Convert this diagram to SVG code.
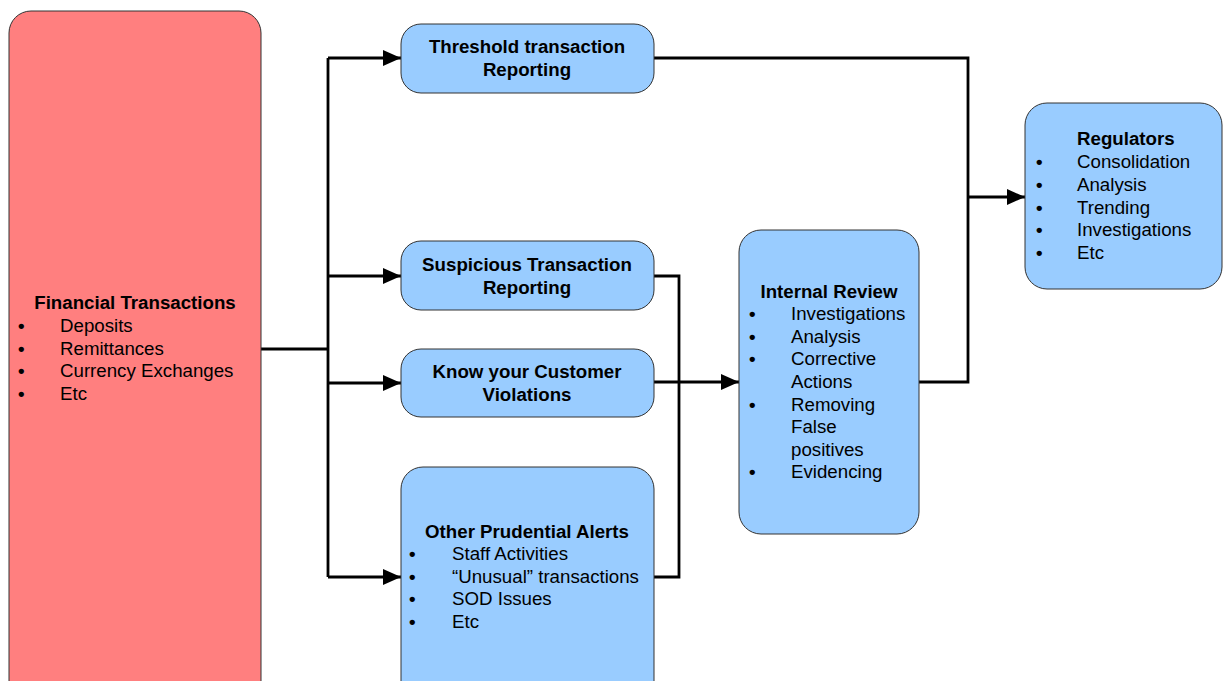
<svg xmlns="http://www.w3.org/2000/svg" width="1223" height="681" viewBox="0 0 1223 681">
<style>
text{font-family:"Liberation Sans",Arial,sans-serif;font-size:18.7px;fill:#000}
.b{font-weight:bold}
.c{text-anchor:middle}
.u{font-weight:bold}
.box{fill:#99CCFF;stroke:#333;stroke-width:1}
.red{fill:#FF7F7F;stroke:#333;stroke-width:1}
.ln{fill:none;stroke:#000;stroke-width:2.8}
</style>
<defs>
<marker id="ar" markerWidth="18" markerHeight="16" refX="18" refY="8" orient="auto" markerUnits="userSpaceOnUse">
<path d="M0,0 L18,8 L0,16 Z" fill="#000"/>
</marker>
</defs>
<rect width="1223" height="681" fill="#fff"/>
<g id="connectors">
<path class="ln" d="M261,349 H328"/>
<path class="ln" d="M328,58 V577"/>
<path class="ln" d="M328,58 H401" marker-end="url(#ar)"/>
<path class="ln" d="M328,276 H401" marker-end="url(#ar)"/>
<path class="ln" d="M328,383 H401" marker-end="url(#ar)"/>
<path class="ln" d="M328,577 H401" marker-end="url(#ar)"/>
<path class="ln" d="M654,276 H679 V577 H654"/>
<path class="ln" d="M654,382 H739" marker-end="url(#ar)"/>
<path class="ln" d="M654,58 H968 V382 H919"/>
<path class="ln" d="M968,197 H1025" marker-end="url(#ar)"/>
</g>
<g id="financial">
<rect class="red" x="9" y="11" width="252" height="700" rx="22"/>
<text class="b c" x="135" y="309">Financial Transactions</text>
<text class="u" x="18" y="332">•</text><text x="60" y="332">Deposits</text>
<text class="u" x="18" y="355">•</text><text x="60" y="355">Remittances</text>
<text class="u" x="18" y="377">•</text><text x="60" y="377">Currency Exchanges</text>
<text class="u" x="18" y="400">•</text><text x="60" y="400">Etc</text>
</g>
<g id="threshold">
<rect class="box" x="401" y="24" width="253" height="69" rx="20"/>
<text class="b c" x="527" y="53">Threshold transaction</text>
<text class="b c" x="527" y="76">Reporting</text>
</g>
<g id="suspicious">
<rect class="box" x="401" y="241" width="253" height="69" rx="20"/>
<text class="b c" x="527" y="271">Suspicious Transaction</text>
<text class="b c" x="527" y="294">Reporting</text>
</g>
<g id="kyc">
<rect class="box" x="401" y="349" width="253" height="68" rx="20"/>
<text class="b c" x="527" y="378">Know your Customer</text>
<text class="b c" x="527" y="401">Violations</text>
</g>
<g id="other">
<rect class="box" x="401" y="467" width="253" height="260" rx="22"/>
<text class="b c" x="527" y="538">Other Prudential Alerts</text>
<text class="u" x="409" y="560">•</text><text x="452" y="560">Staff Activities</text>
<text class="u" x="409" y="583">•</text><text x="452" y="583">“Unusual” transactions</text>
<text class="u" x="409" y="605">•</text><text x="452" y="605">SOD Issues</text>
<text class="u" x="409" y="628">•</text><text x="452" y="628">Etc</text>
</g>
<g id="internal">
<rect class="box" x="739" y="230" width="180" height="304" rx="22"/>
<text class="b c" x="829" y="298">Internal Review</text>
<text class="u" x="749" y="320">•</text><text x="791" y="320">Investigations</text>
<text class="u" x="749" y="343">•</text><text x="791" y="343">Analysis</text>
<text class="u" x="749" y="365">•</text><text x="791" y="365">Corrective</text>
<text x="791" y="388">Actions</text>
<text class="u" x="749" y="411">•</text><text x="791" y="411">Removing</text>
<text x="791" y="433">False</text>
<text x="791" y="456">positives</text>
<text class="u" x="749" y="478">•</text><text x="791" y="478">Evidencing</text>
</g>
<g id="regulators">
<rect class="box" x="1025" y="103" width="197" height="186" rx="22"/>
<text class="b" x="1077" y="145">Regulators</text>
<text class="u" x="1036" y="168">•</text><text x="1077" y="168">Consolidation</text>
<text class="u" x="1036" y="191">•</text><text x="1077" y="191">Analysis</text>
<text class="u" x="1036" y="214">•</text><text x="1077" y="214">Trending</text>
<text class="u" x="1036" y="236">•</text><text x="1077" y="236">Investigations</text>
<text class="u" x="1036" y="259">•</text><text x="1077" y="259">Etc</text>
</g>
</svg>
